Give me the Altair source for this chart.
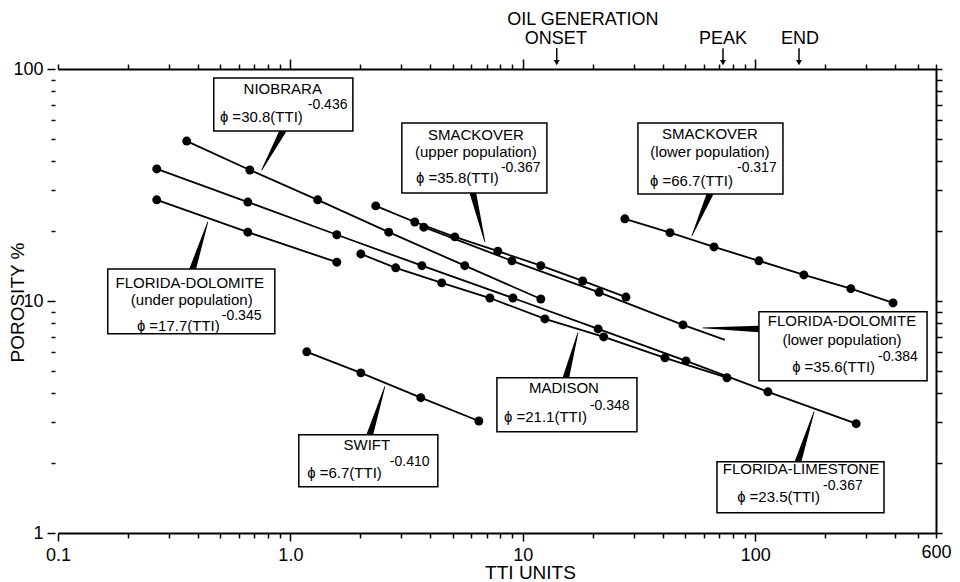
import altair as alt
import pandas as pd

FONT = "Liberation Sans"

# ---------------- data (TTI units vs porosity %) ----------------
niobrara_tti = [0.358, 0.669, 1.31, 2.65, 5.63, 11.96]
niobrara_por = [48.9, 36.7, 27.3, 19.8, 14.2, 10.2]

fd_under_tti = [0.266, 0.656, 1.584]
fd_under_por = [27.3, 19.8, 14.7]

fl_tti = [0.266, 0.656, 1.584, 3.68, 9.07, 21.1, 50.4, 113.5, 272]
fl_por = [37.1, 26.7, 19.3, 14.2, 10.3, 7.58, 5.52, 4.06, 2.96]

madison_tti = [2.01, 2.84, 4.48, 7.22, 12.45, 22.3, 40.9, 75.6]
madison_por = [15.95, 13.9, 11.97, 10.3, 8.37, 7.00, 5.69, 4.67]

smk_upper_tti = [2.33, 3.43, 5.10, 7.81, 11.96, 18.1, 27.8]
smk_upper_por = [25.7, 21.9, 18.9, 16.4, 14.2, 12.2, 10.4]

fd_lower_tti = [3.75, 8.98, 21.3, 48.9]
fd_lower_por = [20.8, 14.9, 10.9, 7.89]
fd_lower_fit_end = [74.1, 6.80]   # fitted line continues past last sample

smk_lower_tti = [27.5, 43.0, 66.5, 103.8, 162, 258, 392]
smk_lower_por = [22.6, 19.7, 17.1, 14.9, 12.95, 11.3, 9.81]

swift_tti = [1.176, 2.01, 3.64, 6.47]
swift_por = [6.04, 4.90, 3.83, 3.04]

series = [
    ("Niobrara", niobrara_tti, niobrara_por),
    ("FD under", fd_under_tti, fd_under_por),
    ("Florida limestone", fl_tti, fl_por),
    ("Madison", madison_tti, madison_por),
    ("Smackover upper", smk_upper_tti, smk_upper_por),
    ("FD lower", fd_lower_tti, fd_lower_por),
    ("Smackover lower", smk_lower_tti, smk_lower_por),
    ("Swift", swift_tti, swift_por),
]

# axis ticks / labels
x_ticks = [round(m * 10 ** e, 6) for e in (-1, 0, 1, 2) for m in range(1, 10) if m * 10 ** e <= 600]
y_ticks = [round(m * 10 ** e, 6) for e in (0, 1) for m in range(1, 10)] + [100]
x_tick_labels = {0.1: "0.1", 1: "1.0", 10: "10", 100: "100", 600: "600"}
y_tick_labels = {1: "1", 10: "10", 100: "100"}

# annotation boxes: name, subtitle, formula, exponent
ann_names = ["NIOBRARA", "SMACKOVER", "SMACKOVER", "FLORIDA-DOLOMITE",
             "FLORIDA-DOLOMITE", "MADISON", "SWIFT", "FLORIDA-LIMESTONE"]
ann_subtitles = ["", "(upper population)", "(lower population)", "(under population)",
                 "(lower population)", "", "", ""]
ann_coef = ["30.8", "35.8", "66.7", "17.7", "35.6", "21.1", "6.7", "23.5"]
ann_exp = ["-0.436", "-0.367", "-0.317", "-0.345", "-0.384", "-0.348", "-0.410", "-0.367"]

# annotation placement in data units (TTI, porosity)
box_x1 = [0.468, 3.017, 31.3, 0.1637, 103.8, 7.74, 1.087, 68.5]
box_x2 = [1.857, 12.70, 131.7, 0.857, 549, 31.0, 4.31, 358.4]
box_y1 = [91.4, 58.5, 58.5, 13.75, 8.98, 4.67, 2.65, 2.028]
box_y2 = [54.0, 29.2, 28.9, 7.22, 4.53, 2.73, 1.583, 1.223]
title_x = [0.927, 6.28, 63.9, 0.3688, 236.4, 15.03, 2.133, 157.4]
title_y = [81.9, 51.9, 52.4, 11.97, 8.22, 4.23, 2.40, 1.892]
sub_x = [0.927, 6.28, 63.9, 0.3763, 236.4, 15.03, 2.133, 157.4]
sub_y = [0, 43.9, 43.9, 10.1, 6.80, 0, 0, 0]
form_x = [1.131, 7.89, 80.2, 0.4967, 328, 18.88, 2.475, 190.1]
form_y = [62.1, 33.9, 32.9, 7.81, 5.20, 3.17, 1.818, 1.434]
exp_x = [1.188, 8.05, 83.5, 0.5067, 337.9, 19.45, 2.679, 195.9]
exp_y = [69.9, 37.4, 37.4, 8.63, 5.74, 3.53, 2.028, 1.599]
lead_base_x = [0.927, 6.10, 63.9, 0.380, 103.8, 15.33, 2.197, 152.9]
lead_base_y = [54.0, 29.2, 28.9, 13.75, 7.58, 4.67, 2.65, 2.028]
lead_tip_x = [0.753, 6.87, 53.4, 0.441, 59.6, 17.27, 2.549, 179.1]
lead_tip_y = [36.7, 17.97, 19.07, 21.9, 7.66, 7.29, 4.27, 3.33]

# oil generation markers (TTI)
oil_labels = ["ONSET", "PEAK", "END"]
oil_tti = [14.0, 72.7, 154.4]

# ---------------- tables ----------------
pt_rows, line_rows = [], []
for name, xs_, ys_ in series:
    for xv, yv in zip(xs_, ys_):
        pt_rows.append({"series": name, "tti": xv, "por": yv})
        line_rows.append({"series": name, "tti": xv, "por": yv})
line_rows.append({"series": "FD lower", "tti": fd_lower_fit_end[0], "por": fd_lower_fit_end[1]})
pts = pd.DataFrame(pt_rows)
lines = pd.DataFrame(line_rows)

boxes = pd.DataFrame({"x1": box_x1, "x2": box_x2, "y1": box_y1, "y2": box_y2})
titles = pd.DataFrame({"x": title_x, "y": title_y, "t": ann_names})
subs = pd.DataFrame({"x": sub_x, "y": sub_y, "t": ann_subtitles})
subs = subs[subs["t"] != ""]
forms = pd.DataFrame({"x": form_x, "y": form_y, "t": ["\u0278 =" + c + "(TTI)" for c in ann_coef]})
exps = pd.DataFrame({"x": exp_x, "y": exp_y, "t": ann_exp})
lead_rows = []
for i in range(len(ann_names)):
    lead_rows.append({"id": i, "o": 0, "x": lead_base_x[i], "y": lead_base_y[i], "w": 6.5})
    lead_rows.append({"id": i, "o": 1, "x": lead_tip_x[i], "y": lead_tip_y[i], "w": 0.8})
leads = pd.DataFrame(lead_rows)

top_text = pd.DataFrame({
    "x": [18.14, 13.88, 72.7, 155.9],
    "y": [163.0, 134.5, 134.5, 134.5],
    "t": ["OIL GENERATION"] + oil_labels,
})
arrows = pd.DataFrame({"x": oil_tti, "y": [123] * 3, "y2": [109] * 3, "yh": [106.5] * 3})

# ---------------- scales / axes ----------------
xs = alt.Scale(type="log", domain=[0.1, 600], nice=False)
ys = alt.Scale(type="log", domain=[1, 100], nice=False)


def label_expr(d):
    e = "''"
    for v, t in reversed(list(d.items())):
        e = f"datum.value == {v} ? '{t}' : " + e
    return e


def major_test(vals):
    return " || ".join(f"datum.value == {v}" for v in vals)


common = dict(grid=False, tickColor="black", domainColor="black", domainWidth=2,
              tickWidth=1.5, labelFont=FONT, labelColor="black", labelFontSize=18,
              titleFont=FONT, titleColor="black", titleFontWeight="normal",
              labelOverlap=False, labelFlush=False)

x_bottom = alt.Axis(orient="bottom", values=x_ticks, labelExpr=label_expr(x_tick_labels),
                    tickSize={"condition": {"test": major_test([0.1, 1, 10, 100]), "value": 8}, "value": 5},
                    labelPadding=5, title="TTI UNITS", titleFontSize=19,
                    titleX=472, titleY=45, titleBaseline="alphabetic", **common)
y_left = alt.Axis(orient="left", values=y_ticks, labelExpr=label_expr(y_tick_labels),
                  domain=False, offset=3,
                  tickSize={"condition": {"test": major_test([1, 10, 100]), "value": 8}, "value": 4},
                  labelPadding=4, title="POROSITY %", titleFontSize=19,
                  titleX=-38, titleY=233, titleAngle=-90, titleBaseline="middle", titleAlign="center",
                  **common)
x_top = alt.Axis(orient="top", values=x_ticks, labels=False, title=None,
                 tickSize={"condition": {"test": major_test([1, 10, 100]), "value": 10}, "value": 5},
                 **common)
y_right = alt.Axis(orient="right", values=y_ticks, labels=False, title=None, tickSize=6, **common)

line_layer = alt.Chart(lines).mark_line(color="black", strokeWidth=1.8).encode(
    x=alt.X("tti:Q", scale=xs, axis=x_bottom),
    y=alt.Y("por:Q", scale=ys, axis=y_left),
    detail="series:N",
    order="tti:Q",
)
point_layer = alt.Chart(pts).mark_circle(color="black", size=80, opacity=1).encode(
    x=alt.X("tti:Q", scale=xs, axis=x_top),
    y=alt.Y("por:Q", scale=ys, axis=y_right),
)


def X(f="x"):
    return alt.X(f + ":Q", scale=xs, axis=None)


def Y(f="y"):
    return alt.Y(f + ":Q", scale=ys, axis=None)


lead_layer = alt.Chart(leads).mark_trail(color="black").encode(
    x=X(), y=Y(), size=alt.Size("w:Q", scale=None, legend=None), detail="id:N", order="o:Q")
box_layer = alt.Chart(boxes).mark_rect(fill="white", stroke="black", strokeWidth=1.5).encode(
    x=X("x1"), x2="x2:Q", y=Y("y1"), y2="y2:Q")
title_layer = alt.Chart(titles).mark_text(font=FONT, fontSize=15, align="center", baseline="middle",
                                          color="black").encode(x=X(), y=Y(), text="t:N")
sub_layer = alt.Chart(subs).mark_text(font=FONT, fontSize=15, align="center", baseline="middle",
                                      color="black").encode(x=X(), y=Y(), text="t:N")
form_layer = alt.Chart(forms).mark_text(font=FONT, fontSize=15, align="right", baseline="middle",
                                        color="black").encode(x=X(), y=Y(), text="t:N")
exp_layer = alt.Chart(exps).mark_text(font=FONT, fontSize=14, align="left", baseline="middle",
                                      color="black").encode(x=X(), y=Y(), text="t:N")
top_layer = alt.Chart(top_text).mark_text(font=FONT, fontSize=18, align="center", baseline="middle",
                                          color="black").encode(x=X(), y=Y(), text="t:N")
arrow_rule = alt.Chart(arrows).mark_rule(color="black", strokeWidth=1.5).encode(
    x=X(), y=Y(), y2="y2:Q")
arrow_head = alt.Chart(arrows).mark_point(shape="triangle-down", filled=True, size=35,
                                          color="black", opacity=1).encode(x=X(), y=Y("yh"))

chart = alt.layer(
    line_layer, point_layer, lead_layer, box_layer, title_layer, sub_layer,
    form_layer, exp_layer, top_layer, arrow_rule, arrow_head,
).resolve_axis(x="independent", y="independent").properties(
    width=878, height=464,
    padding={"left": 50, "top": 61, "right": 16, "bottom": 48},
    autosize=alt.AutoSizeParams(type="none"),
    background="white",
).configure_view(stroke=None)

chart.save("out.html", embed_options={"renderer": "svg", "actions": False})
